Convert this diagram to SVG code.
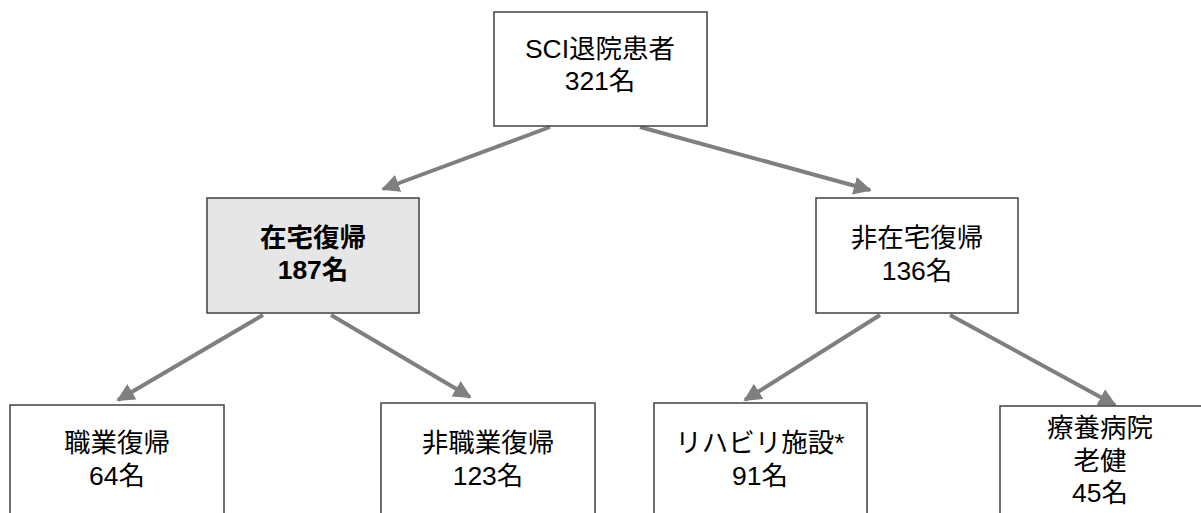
<svg xmlns="http://www.w3.org/2000/svg" width="1201" height="513" viewBox="0 0 1201 513">
<style>
.box{fill:#ffffff;stroke:#404040;stroke-width:1.5}
.hl{fill:#e6e6e6}
.t{font-family:"Liberation Sans","Noto Sans CJK JP",sans-serif;font-size:26.5px;fill:#000;text-anchor:middle}
.b{font-weight:bold}
.c{stroke:#7f7f7f;stroke-width:4;fill:none;marker-end:url(#ah)}
</style>
<defs>
<marker id="ah" viewBox="0 0 10 10" refX="9" refY="5" markerWidth="4.5" markerHeight="4.5" orient="auto" markerUnits="strokeWidth">
<path d="M0,0 L10,5 L0,10 z" fill="#7f7f7f"/>
</marker>
</defs>
<g id="connectors">
<line class="c" x1="550" y1="127" x2="383" y2="189"/>
<line class="c" x1="640" y1="127" x2="870" y2="190"/>
<line class="c" x1="263" y1="315" x2="118" y2="400"/>
<line class="c" x1="331" y1="315" x2="470" y2="397"/>
<line class="c" x1="880" y1="315" x2="745" y2="400"/>
<line class="c" x1="950" y1="315" x2="1115" y2="405"/>
</g>
<g id="n_root">
<rect class="box" x="494" y="12" width="213" height="114"/>
<text class="t" x="600" y="58">SCI退院患者</text>
<text class="t" x="600" y="90">321名</text>
</g>
<g id="n_home">
<rect class="box hl" x="207" y="198" width="212" height="115"/>
<text class="t b" x="313" y="247">在宅復帰</text>
<text class="t b" x="313" y="279">187名</text>
</g>
<g id="n_nonhome">
<rect class="box" x="816" y="198" width="202" height="115"/>
<text class="t" x="917" y="247">非在宅復帰</text>
<text class="t" x="917" y="280">136名</text>
</g>
<g id="n_work">
<rect class="box" x="10" y="405" width="214" height="120"/>
<text class="t" x="117" y="452">職業復帰</text>
<text class="t" x="117" y="485">64名</text>
</g>
<g id="n_nonwork">
<rect class="box" x="381" y="403" width="214" height="120"/>
<text class="t" x="488" y="452">非職業復帰</text>
<text class="t" x="488" y="485">123名</text>
</g>
<g id="n_rehab">
<rect class="box" x="654" y="403" width="213" height="120"/>
<text class="t" x="760" y="452">リハビリ施設*</text>
<text class="t" x="760" y="485">91名</text>
</g>
<g id="n_care">
<rect class="box" x="1000" y="406" width="213" height="120"/>
<text class="t" x="1100" y="437">療養病院</text>
<text class="t" x="1100" y="470">老健</text>
<text class="t" x="1100" y="502">45名</text>
</g>
</svg>
